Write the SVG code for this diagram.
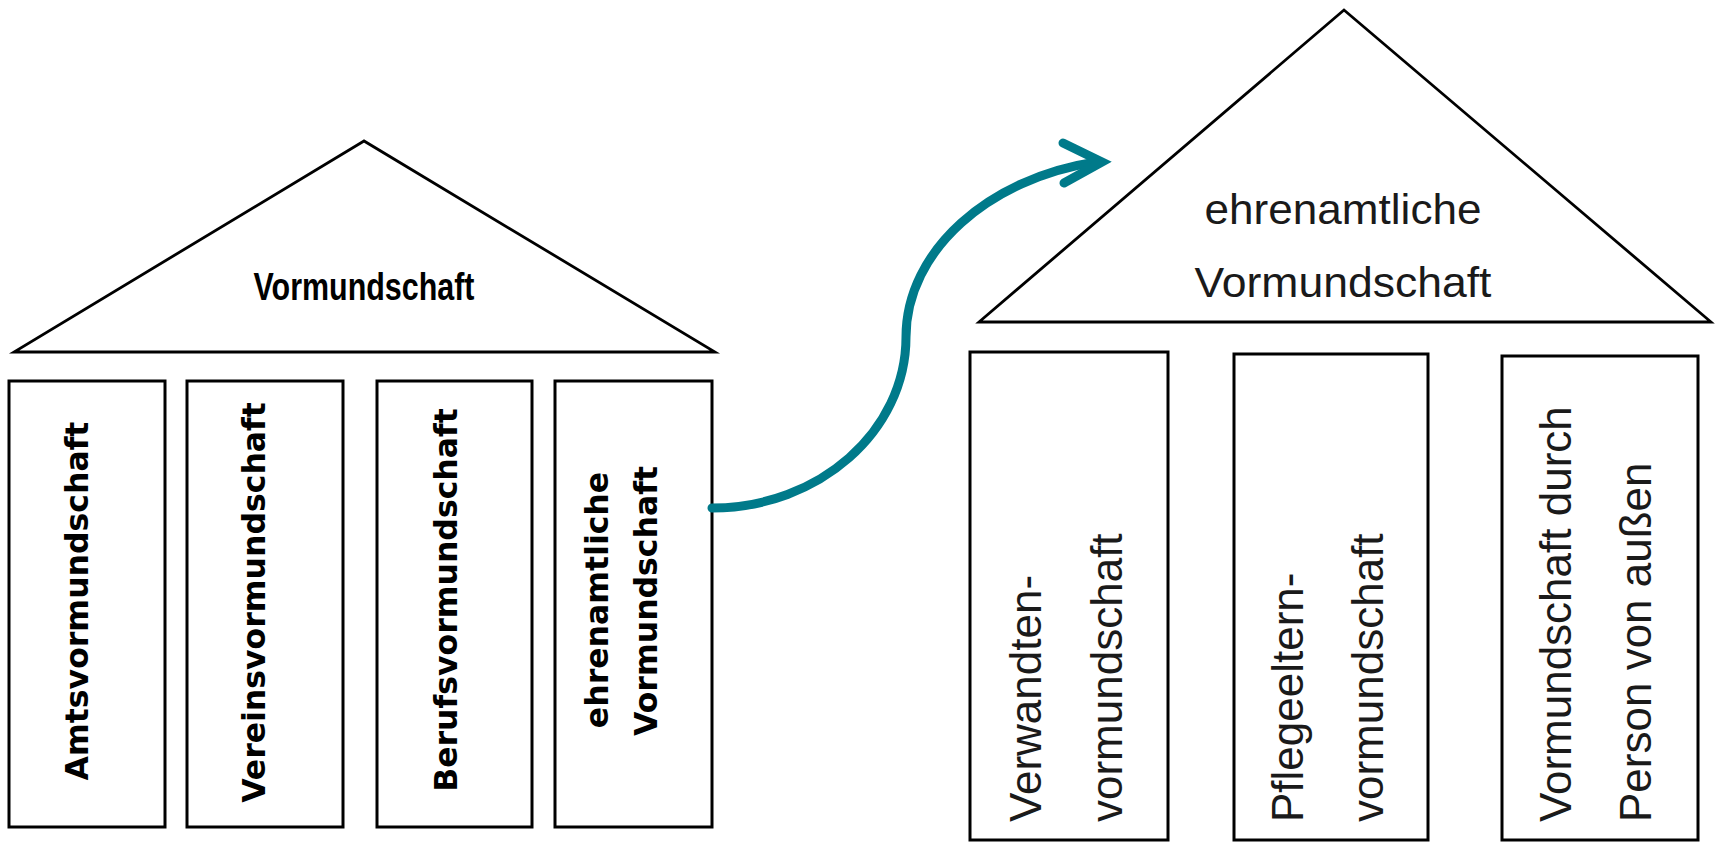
<svg xmlns="http://www.w3.org/2000/svg" width="1715" height="844" viewBox="0 0 1715 844">
<style>
.shape{fill:#ffffff;stroke:#000000;stroke-width:3}
.roof{fill:#ffffff;stroke:#000000;stroke-width:2.8;stroke-linejoin:miter}
.lbold{font-family:"DejaVu Sans","Verdana",sans-serif;font-weight:bold;font-size:31.5px;fill:#000}
.rreg{font-family:"Liberation Sans",Arial,sans-serif;font-size:44px;fill:#1a1a1a}
.title1{font-family:"Liberation Sans Narrow","Liberation Sans",Arial,sans-serif;font-weight:bold;font-size:38px;fill:#000}
.title2{font-family:"Liberation Sans",Arial,sans-serif;font-size:42px;fill:#1a1a1a}
.arrow{fill:none;stroke:#007a8a;stroke-width:9;stroke-linecap:round}
</style>
<rect width="1715" height="844" fill="#ffffff"/>
<g id="left-roof">
<polygon class="roof" points="364,141 14,352 715,352"/>
<text class="title1" x="364" y="300" text-anchor="middle" textLength="221" lengthAdjust="spacingAndGlyphs">Vormundschaft</text>
</g>
<g id="left-col-1">
<rect class="shape" x="9" y="381" width="156" height="446"/>
<text class="lbold" transform="translate(87.5,601) rotate(-90)" text-anchor="middle">Amtsvormundschaft</text>
</g>
<g id="left-col-2">
<rect class="shape" x="187" y="381" width="156" height="446"/>
<text class="lbold" transform="translate(265,602.5) rotate(-90)" text-anchor="middle">Vereinsvormundschaft</text>
</g>
<g id="left-col-3">
<rect class="shape" x="377" y="381" width="155" height="446"/>
<text class="lbold" transform="translate(456.5,600) rotate(-90)" text-anchor="middle">Berufsvormundschaft</text>
</g>
<g id="left-col-4">
<rect class="shape" x="555" y="381" width="157" height="446"/>
<text class="lbold" transform="translate(608,600) rotate(-90)" text-anchor="middle">ehrenamtliche</text>
<text class="lbold" transform="translate(656.5,601) rotate(-90)" text-anchor="middle">Vormundschaft</text>
</g>
<g id="right-roof">
<polygon class="roof" points="1344,10 979,322 1711,322"/>
<text class="title2" x="1343" y="224" text-anchor="middle" textLength="277" lengthAdjust="spacingAndGlyphs">ehrenamtliche</text>
<text class="title2" x="1343" y="297" text-anchor="middle" textLength="297" lengthAdjust="spacingAndGlyphs">Vormundschaft</text>
</g>
<g id="right-col-1">
<rect class="shape" x="970" y="352" width="198" height="488"/>
<text class="rreg" transform="translate(1041,822) rotate(-90)">Verwandten-</text>
<text class="rreg" transform="translate(1122,822) rotate(-90)">vormundschaft</text>
</g>
<g id="right-col-2">
<rect class="shape" x="1234" y="354" width="194" height="486"/>
<text class="rreg" transform="translate(1303,822) rotate(-90)">Pflegeeltern-</text>
<text class="rreg" transform="translate(1383,822) rotate(-90)">vormundschaft</text>
</g>
<g id="right-col-3">
<rect class="shape" x="1502" y="356" width="196" height="484"/>
<text class="rreg" transform="translate(1571,822) rotate(-90)">Vormundschaft durch</text>
<text class="rreg" transform="translate(1651,822) rotate(-90)">Person von außen</text>
</g>
<g id="connectors">
<path class="arrow" d="M712,508 C819,508 906,431 906,337 C906,250 990,178 1096,162"/>
<polyline class="arrow" points="1063,143 1102,162 1064,183" stroke-linejoin="miter"/>
</g>
</svg>
